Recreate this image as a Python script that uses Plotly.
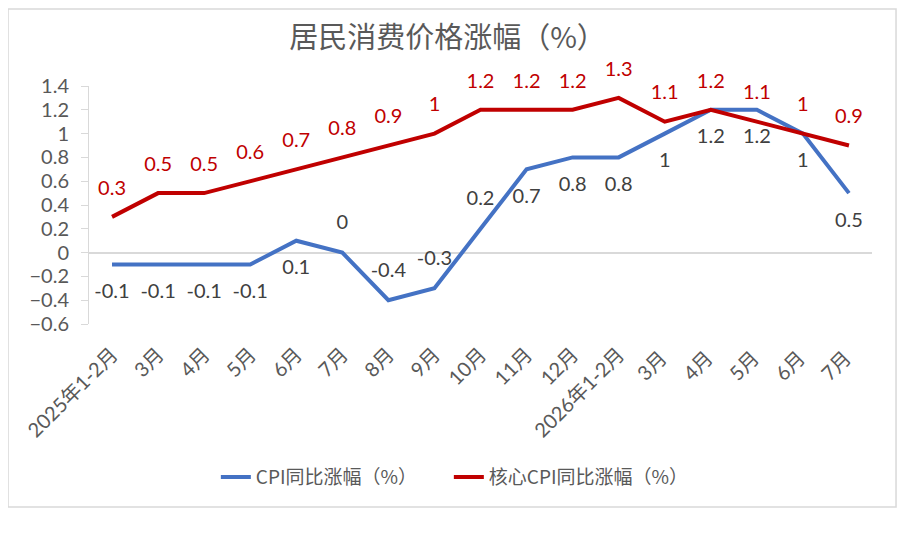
import plotly.graph_objects as go

months = ['2025年1-2月', '3月', '4月', '5月', '6月', '7月', '8月', '9月', '10月',
          '11月', '12月', '2026年1-2月', '3月 ', '4月 ', '5月 ', '6月 ', '7月 ']
cpi = [-0.1, -0.1, -0.1, -0.1, 0.1, 0, -0.4, -0.3, 0.2, 0.7, 0.8, 0.8, 1, 1.2, 1.2, 1, 0.5]
core = [0.3, 0.5, 0.5, 0.6, 0.7, 0.8, 0.9, 1, 1.2, 1.2, 1.2, 1.3, 1.1, 1.2, 1.1, 1, 0.9]
cpi_pos = ['bottom center'] * 5 + ['top center'] * 4 + ['bottom center'] * 8

font_fam = 'Lato, Noto Sans CJK SC, sans-serif'

fig = go.Figure()
fig.add_trace(go.Scatter(
    x=months, y=cpi, name='CPI同比涨幅（%）', mode='lines+markers+text',
    line=dict(color='#4472c4', width=4),
    marker=dict(size=28, color='rgba(0,0,0,0)'),
    text=[str(v) for v in cpi], textposition=cpi_pos,
    textfont=dict(size=20, color='#404040', family=font_fam),
    cliponaxis=False))
fig.add_trace(go.Scatter(
    x=months, y=core, name='核心CPI同比涨幅（%）', mode='lines+markers+text',
    line=dict(color='#c00000', width=4),
    marker=dict(size=26, color='rgba(0,0,0,0)'),
    text=[str(v) for v in core], textposition='top center',
    textfont=dict(size=20, color='#c00000', family=font_fam),
    cliponaxis=False))

fig.update_layout(
    width=897, height=544,
    margin=dict(l=81, r=33, t=78, b=228),
    paper_bgcolor='white', plot_bgcolor='white',
    title=dict(text='居民消费价格涨幅（%）', x=0.49, xanchor='center', y=0.945, yanchor='middle',
               font=dict(size=29, color='#595959', family='Noto Sans CJK SC')),
    font=dict(family=font_fam, color='#595959'),
    showlegend=True,
    legend=dict(orientation='h', x=0.162, xanchor='left', y=-0.643, yanchor='middle',
                font=dict(size=19, color='#595959', family='Noto Sans CJK SC'),
                entrywidth=188, entrywidthmode='pixels'),
)
fig.update_xaxes(type='category', range=[-0.5, 16.5], showline=False, ticks='',
                 showgrid=False, tickangle=-45, tickfont=dict(size=20, color='#595959'),
                 zeroline=False, ticklabelstandoff=14)
fig.update_yaxes(range=[-0.6, 1.4], dtick=0.2, tick0=-0.6, showgrid=False,
                 showline=True, linecolor='#d9d9d9', linewidth=1,
                 ticks='outside', ticklen=7, tickcolor='#d9d9d9',
                 zeroline=True, zerolinecolor='#d9d9d9', zerolinewidth=1.5,
                 tickfont=dict(size=20, color='#595959'), tickformat='~g',
                 ticklabelstandoff=8)
fig.add_shape(type='rect', xref='paper', yref='paper',
              x0=-0.1034, x1=1.0307, y0=-0.769, y1=1.3235,
              line=dict(color='#d9d9d9', width=1.5))

fig.write_html('out.html')
